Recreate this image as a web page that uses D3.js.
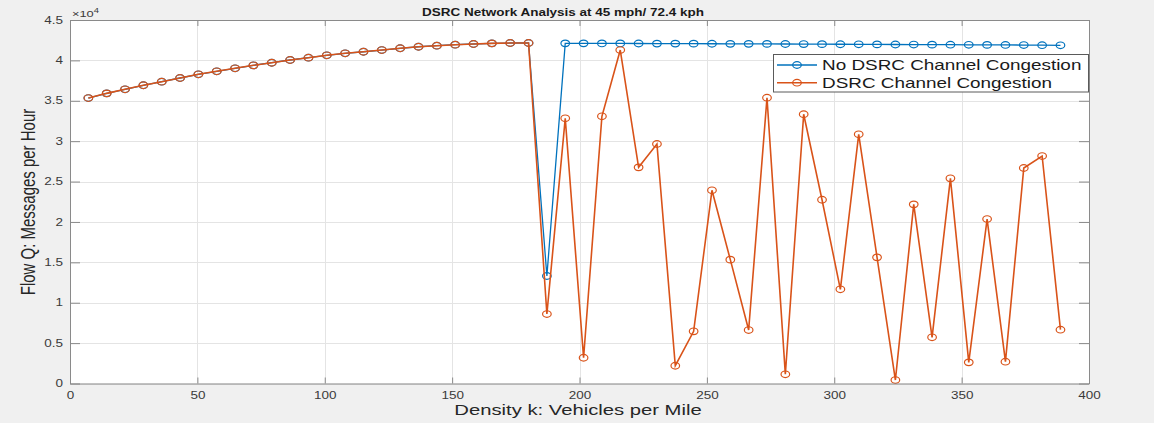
<!DOCTYPE html>
<html>
<head>
<meta charset="utf-8">
<script src="https://cdn.jsdelivr.net/npm/d3@7"></script>
<style>
  html, body { margin: 0; padding: 0; background: #f0f0f0; }
  svg { display: block; font-family: "Liberation Sans", Arial, sans-serif; }
</style>
</head>
<body>
<svg id="chart" width="1154" height="423"></svg>
<script>
// ---- Data ----
const density = [7.2, 14.4, 21.6, 28.8, 36, 43.2, 50.4, 57.6, 64.8, 72, 79.2, 86.4, 93.6, 100.8, 108, 115.2, 122.4, 129.6, 136.8, 144, 151.2, 158.4, 165.6, 172.8, 180,
  187.2, 194.4, 201.6, 208.8, 216, 223.2, 230.4, 237.6, 244.8, 252, 259.2, 266.4, 273.6, 280.8, 288, 295.2, 302.4, 309.6, 316.8, 324, 331.2, 338.4, 345.6, 352.8, 360, 367.2, 374.4, 381.6, 388.8];

const noCongestion = [35340, 35920, 36420, 36920, 37360, 37820, 38280, 38650, 39020, 39390, 39710, 40050, 40330, 40630, 40880, 41070, 41280, 41500, 41690, 41820, 41940, 42030, 42110, 42150, 42150,
  13310, 42110, 42110, 42100, 42100, 42090, 42080, 42080, 42070, 42060, 42050, 42050, 42040, 42030, 42020, 42010, 42000, 41990, 41980, 41970, 41960, 41950, 41940, 41930, 41920, 41910, 41900, 41880, 41870];

const congestion = [35340, 35920, 36420, 36920, 37360, 37820, 38280, 38650, 39020, 39390, 39710, 40050, 40330, 40630, 40880, 41070, 41280, 41500, 41690, 41820, 41940, 42030, 42110, 42150, 42150,
  8600, 32830, 3190, 33080, 41280, 26760, 29650, 2200, 6460, 23920, 15330, 6620, 35380, 1140, 33330, 22750, 11660, 30850, 15620, 430, 22180, 5720, 25400, 2620, 20360, 2700, 26680, 28160, 6660];

const xTicks = [0, 50, 100, 150, 200, 250, 300, 350, 400];
const yTicks = [0, 5000, 10000, 15000, 20000, 25000, 30000, 35000, 40000, 45000];
const seriesNames = ["No DSRC Channel Congestion", "DSRC Channel Congestion"];
const seriesColors = ["#0072BD", "#D95319"];
const titleText = "DSRC Network Analysis at 45 mph/ 72.4 kph";
const xLabel = "Density k: Vehicles per Mile";
const yLabel = "Flow Q: Messages per Hour";

// ---- Layout ----
const SX = 1.35; // horizontal text stretch of the reference
const L = 70, R = 1089, T = 20, B = 383.5;
const svg = d3.select("#chart");

const x = d3.scaleLinear().domain([0, 400]).range([L, R]);
const y = d3.scaleLinear().domain([0, 45000]).range([B, T]);

// axes background
svg.append("rect").attr("x", L).attr("y", T).attr("width", R - L).attr("height", B - T).attr("fill", "#ffffff");

// grid
const grid = svg.append("g").attr("stroke", "#e4e4e4").attr("stroke-width", 1);
grid.selectAll("line.gx").data(xTicks).join("line").attr("class", "gx")
  .attr("x1", d => Math.round(x(d)) + 0.5).attr("x2", d => Math.round(x(d)) + 0.5).attr("y1", T).attr("y2", B);
grid.selectAll("line.gy").data(yTicks).join("line").attr("class", "gy")
  .attr("x1", L).attr("x2", R).attr("y1", d => Math.round(y(d)) + 0.5).attr("y2", d => Math.round(y(d)) + 0.5);

// series
const data = [noCongestion, congestion];
const widths = [1.3, 1.6];
const line = d3.line().x((d, i) => x(density[i])).y(d => y(d));
data.forEach((vals, s) => {
  const g = svg.append("g");
  g.append("path").datum(vals).attr("d", line)
    .attr("fill", "none").attr("stroke", seriesColors[s]).attr("stroke-width", widths[s]);
  g.selectAll("ellipse").data(vals).join("ellipse")
    .attr("cx", (d, i) => x(density[i])).attr("cy", d => y(d))
    .attr("rx", 4.3).attr("ry", 3.3)
    .attr("fill", "none").attr("stroke", seriesColors[s]).attr("stroke-width", 1.2);
});

// axes
const axisColor = "#8a8a8a";
const textColor = "#3a3a3a";
function styleAxis(g) {
  g.select(".domain").attr("stroke", axisColor);
  g.selectAll(".tick line").attr("stroke", axisColor);
  g.selectAll(".tick text").attr("fill", textColor).attr("font-size", 10)
    .attr("font-family", "Liberation Sans, Arial, sans-serif");
}
const xAxis = svg.append("g").attr("transform", `translate(0,${B})`)
  .call(d3.axisBottom(x).tickValues(xTicks).tickSize(-6).tickSizeOuter(0).tickPadding(8));
styleAxis(xAxis);
xAxis.selectAll(".tick text").attr("transform", `scale(${SX},1)`);

const yAxis = svg.append("g").attr("transform", `translate(${L},0)`)
  .call(d3.axisLeft(y).tickValues(yTicks).tickSize(-10).tickSizeOuter(0).tickPadding(7)
    .tickFormat(d => String(d / 10000)));
styleAxis(yAxis);
yAxis.selectAll(".tick text").attr("x", -7 / SX).attr("transform", `scale(${SX},1)`);

const topAxis = svg.append("g").attr("transform", `translate(0,${T})`)
  .call(d3.axisTop(x).tickValues(xTicks).tickSize(-6).tickSizeOuter(0).tickFormat(""));
styleAxis(topAxis);
const rightAxis = svg.append("g").attr("transform", `translate(${R},0)`)
  .call(d3.axisRight(y).tickValues(yTicks).tickSize(-10).tickSizeOuter(0).tickFormat(""));
styleAxis(rightAxis);

// exponent label
const ex = svg.append("text").attr("transform", `translate(72,17) scale(${SX},1)`)
  .attr("font-size", 9.5).attr("fill", textColor);
ex.append("tspan").text("\u00d710");
ex.append("tspan").attr("font-size", 7).attr("dy", -4).text("4");

// title
svg.append("text").attr("transform", `translate(563,15.5) scale(${SX},1)`)
  .attr("text-anchor", "middle").attr("font-weight", "bold").attr("font-size", 10)
  .attr("fill", "#1a1a1a").text(titleText);

// axis labels
svg.append("text").attr("transform", `translate(578,415) scale(${SX},1)`)
  .attr("text-anchor", "middle").attr("font-size", 15).attr("fill", "#262626").text(xLabel);
svg.append("text").attr("transform", `translate(35,202) scale(${SX},1) rotate(-90)`)
  .attr("text-anchor", "middle").attr("font-size", 15).attr("fill", "#262626").text(yLabel);

// legend
const lg = svg.append("g");
lg.append("rect").attr("x", 773.5).attr("y", 54.5).attr("width", 315).attr("height", 37.5)
  .attr("fill", "#ffffff").attr("stroke", "#5a5a5a").attr("stroke-width", 1);
seriesNames.forEach((name, i) => {
  const cy = 65 + i * 17.7;
  lg.append("line").attr("x1", 777).attr("x2", 817).attr("y1", cy).attr("y2", cy)
    .attr("stroke", seriesColors[i]).attr("stroke-width", widths[i]);
  lg.append("ellipse").attr("cx", 797).attr("cy", cy).attr("rx", 4.3).attr("ry", 3.3)
    .attr("fill", "none").attr("stroke", seriesColors[i]).attr("stroke-width", 1.2);
  lg.append("text").attr("transform", `translate(822,${cy + 5}) scale(${SX},1)`)
    .attr("font-size", 14).attr("fill", "#1a1a1a").text(name);
});
</script>
</body>
</html>
